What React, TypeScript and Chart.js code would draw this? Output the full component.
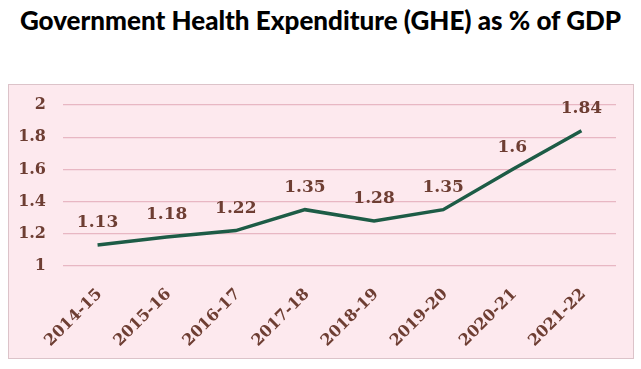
import React, { useEffect, useRef } from "react";
import { Chart, registerables } from "chart.js";

Chart.register(...registerables);

const titleText = "Government Health Expenditure (GHE) as % of GDP";
const categories = ["2014-15", "2015-16", "2016-17", "2017-18", "2018-19", "2019-20", "2020-21", "2021-22"];
const gheValues = [1.13, 1.18, 1.22, 1.35, 1.28, 1.35, 1.6, 1.84];
const yMin = 1;
const yMax = 2;
const yStep = 0.2;

const brown = "#6e3e33";

const labelPlugin = {
  id: "valueLabels",
  afterDatasetsDraw(chart: any) {
    const ctx = chart.ctx;
    const meta = chart.getDatasetMeta(0);
    ctx.save();
    ctx.font = "bold 17px 'DejaVu Serif'";
    ctx.fillStyle = brown;
    ctx.textAlign = "center";
    ctx.textBaseline = "middle";
    meta.data.forEach((pt: any, i: number) => {
      ctx.fillText(String(gheValues[i]), pt.x, pt.y - 22);
    });
    ctx.restore();
  },
};

export default function App() {
  const ref = useRef<HTMLCanvasElement>(null);
  useEffect(() => {
    document.body.style.margin = "0";
    const chart = new Chart(ref.current!, {
      type: "line",
      data: {
        labels: categories,
        datasets: [
          {
            data: gheValues,
            borderColor: "#1d5c46",
            borderWidth: 3.5,
            pointRadius: 0,
            tension: 0,
            fill: false,
          },
        ],
      },
      options: {
        responsive: false,
        animation: false,
        layout: { padding: { top: 20, right: 17, left: 0, bottom: 0 } },
        plugins: { legend: { display: false }, tooltip: { enabled: false } },
        scales: {
          x: {
            offset: true,
            grid: { display: false, drawTicks: false },
            border: { display: false },
            ticks: {
              minRotation: 45,
              maxRotation: 45,
              padding: 19,
              labelOffset: 2,
              color: brown,
              font: { family: "'DejaVu Serif'", weight: "bold", size: 16 },
            },
            afterFit: (s: any) => {
              s.height = 92;
              s.paddingLeft = 0;
              s.paddingRight = 0;
            },
          },
          y: {
            min: yMin,
            max: yMax,
            grid: { color: "#e8b7c3", lineWidth: 1.2, drawTicks: false },
            border: { display: false },
            ticks: {
              stepSize: yStep,
              padding: 17,
              color: brown,
              font: { family: "'DejaVu Serif'", weight: "bold", size: 16 },
              callback: (v: any) => String(Number(Number(v).toFixed(1))),
            },
            afterFit: (s: any) => {
              s.width = 54;
              s.paddingTop = 0;
              s.paddingBottom = 0;
            },
          },
        },
      },
      plugins: [labelPlugin],
    });
    return () => chart.destroy();
  }, []);

  return (
    <div style={{ position: "relative", width: 641, height: 369, background: "#ffffff" }}>
      <div
        style={{
          position: "absolute",
          left: 0,
          top: 4,
          width: 641,
          textAlign: "center",
          fontFamily: "Lato, sans-serif",
          fontWeight: 900,
          fontSize: 26,
          color: "#000",
          whiteSpace: "nowrap",
        }}
      >
        {titleText}
      </div>
      <div
        style={{
          position: "absolute",
          left: 8,
          top: 84,
          width: 626,
          height: 275,
          boxSizing: "border-box",
          border: "1px solid #dcc3c9",
          background: "#fde9ee",
        }}
      >
        <canvas ref={ref} width={624} height={273} style={{ display: "block" }} />
      </div>
    </div>
  );
}
